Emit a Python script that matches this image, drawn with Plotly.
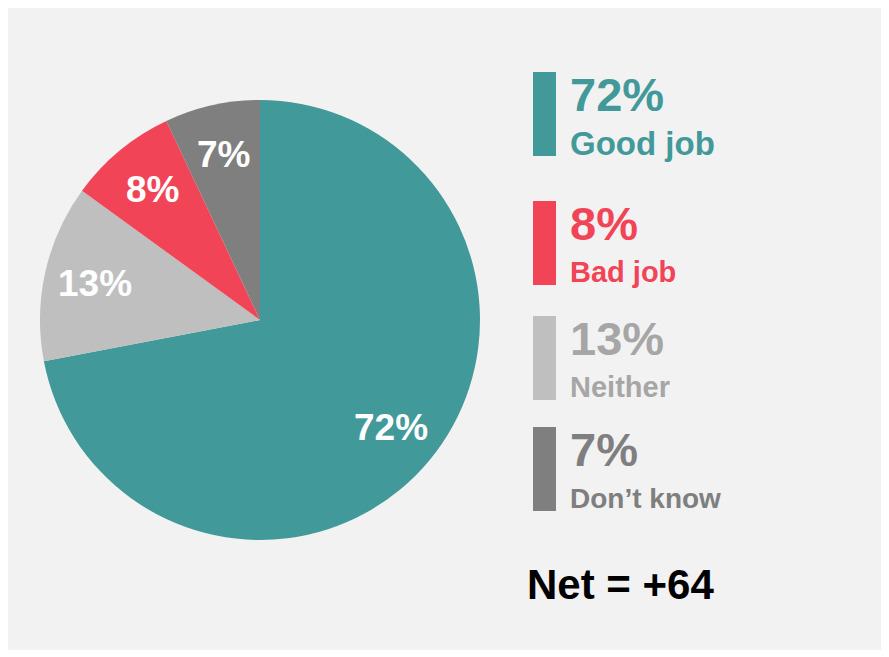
import math
import plotly.graph_objects as go

# Data
pie_labels = ["Good job", "Neither", "Bad job", "Don’t know"]
pie_values = [72, 13, 8, 7]
pie_colors = ["#42999A", "#BFBFBF", "#F24457", "#7F7F7F"]

legend_labels = ["Good job", "Bad job", "Neither", "Don’t know"]
legend_values = [72, 8, 13, 7]
legend_bar_colors = ["#42999A", "#F24457", "#BFBFBF", "#7F7F7F"]
legend_text_colors = ["#42999A", "#F24457", "#A6A6A6", "#7F7F7F"]
legend_label_sizes = [33, 29, 29, 28]
net_text = "Net = +64"

# page body has an 8px margin; lay out in window pixels and shift
OFF = 8
W, H = 889 - OFF, 657 - OFF
FONT = "Liberation Sans, Arial, sans-serif"

def px(x):
    return (x - OFF) / W

def py(y):
    return 1 - (y - OFF) / H

CX, CY, R = 260, 320, 220

fig = go.Figure()

fig.add_trace(go.Pie(
    labels=pie_labels,
    values=pie_values,
    marker=dict(colors=pie_colors, line=dict(width=0)),
    sort=False,
    direction="clockwise",
    rotation=0,
    textinfo="none",
    hoverinfo="label+percent",
    showlegend=False,
    domain=dict(x=[px(CX - R), px(CX + R)], y=[py(CY + R), py(CY - R)]),
))

shapes = [dict(type="rect", xref="paper", yref="paper",
               x0=px(8), x1=px(882), y0=py(650), y1=py(8),
               fillcolor="#F2F2F2", line=dict(width=0), layer="below")]
annotations = []

# slice labels placed along each slice's mid-angle
total = sum(pie_values)
cum = 0
for lab, val in zip(pie_labels, pie_values):
    mid = (cum + val / 2) / total * 2 * math.pi
    cum += val
    rr = 0.77 * R
    lx = CX + rr * math.sin(mid)
    ly = CY - rr * math.cos(mid)
    annotations.append(dict(xref="paper", yref="paper", x=px(lx), y=py(ly),
                            xanchor="center", yanchor="middle", showarrow=False,
                            text=f"<b>{val}%</b>",
                            font=dict(family=FONT, size=37, color="white")))

bar_tops = [72, 201, 316, 427]
bar_h = 84
for i, (lab, val, bc, tc, fs) in enumerate(zip(legend_labels, legend_values,
                                                 legend_bar_colors, legend_text_colors,
                                                 legend_label_sizes)):
    top = bar_tops[i]
    shapes.append(dict(type="rect", xref="paper", yref="paper",
                       x0=px(533), x1=px(556), y0=py(top + bar_h), y1=py(top),
                       fillcolor=bc, line=dict(width=0)))
    annotations.append(dict(xref="paper", yref="paper", x=px(568), y=py(top + 22),
                            xanchor="left", yanchor="middle", showarrow=False,
                            text=f"<b>{val}%</b>",
                            font=dict(family=FONT, size=47, color=tc)))
    annotations.append(dict(xref="paper", yref="paper", x=px(568), y=py(top + 71),
                            xanchor="left", yanchor="middle", showarrow=False,
                            text=f"<b>{lab}</b>",
                            font=dict(family=FONT, size=fs, color=tc)))

annotations.append(dict(xref="paper", yref="paper", x=px(525), y=py(584),
                        xanchor="left", yanchor="middle", showarrow=False,
                        text=f"<b>{net_text}</b>",
                        font=dict(family=FONT, size=42, color="black")))

fig.update_layout(
    width=W, height=H,
    margin=dict(l=0, r=0, t=0, b=0),
    paper_bgcolor="white",
    plot_bgcolor="white",
    shapes=shapes,
    annotations=annotations,
)

fig.write_html("out.html")
